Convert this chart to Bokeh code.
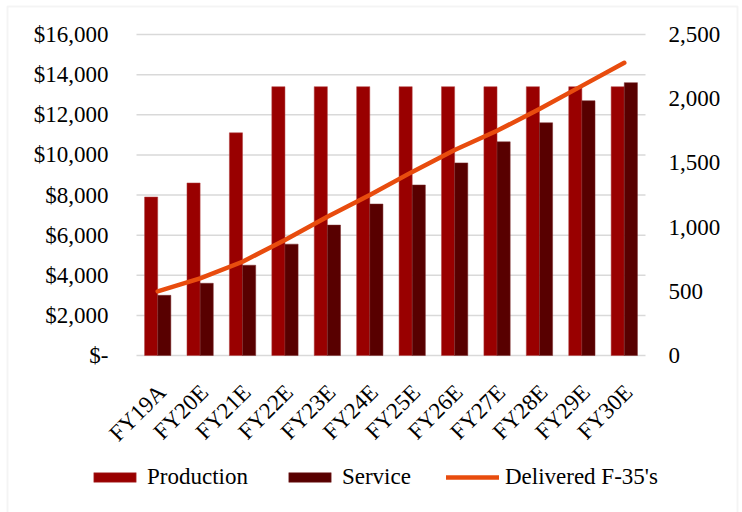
import math
from bokeh.plotting import figure
from bokeh.models import ColumnDataSource, Range1d, Legend, LegendItem, BoxAnnotation
from bokeh.core.properties import value
from bokeh.embed import file_html
from bokeh.resources import INLINE

years = ["FY19A", "FY20E", "FY21E", "FY22E", "FY23E", "FY24E",
         "FY25E", "FY26E", "FY27E", "FY28E", "FY29E", "FY30E"]
production = [7900, 8600, 11100, 13400, 13400, 13400, 13400, 13400, 13400, 13400, 13400, 13400]
service = [3000, 3600, 4500, 5550, 6500, 7550, 8500, 9600, 10650, 11600, 12700, 13600]
delivered = [500, 600, 730, 900, 1080, 1250, 1430, 1600, 1750, 1920, 2100, 2280]
left_ticks = [0, 2000, 4000, 6000, 8000, 10000, 12000, 14000, 16000]
left_labels = ["$-", "$2,000", "$4,000", "$6,000", "$8,000", "$10,000", "$12,000", "$14,000", "$16,000"]
right_ticks = [0, 500, 1000, 1500, 2000, 2500]
right_labels = ["0", "500", "1,000", "1,500", "2,000", "2,500"]

FONT = "Liberation Serif"
FS = "23px"
PROD_C = "#990000"
SERV_C = "#580000"
LINE_C = "#E84C0E"
GRID_C = "#d9d9d9"

# ---- layout (pixels of the 742x512 canvas) ----
W, H = 742, 512
PL, PR, PT, PB = 136, 645, 34, 355          # plot area
N = len(years)
SLOT = (PR - PL) / N
LMAX, RMAX = left_ticks[-1], right_ticks[-1]

def px2x(px):
    return -0.5 + (px - PL) / SLOT

def px2y(py, top=LMAX):
    return (PB - py) * top / (PB - PT)

idx = list(range(N))
src = ColumnDataSource(dict(idx=idx, years=years, production=production,
                            service=service, delivered=delivered,
                            prod_x=[i - 0.155 for i in idx], serv_x=[i + 0.155 for i in idx],
                            lab_x=[i + 0.1 for i in idx], lab_y=[px2y(388)] * N))

p = figure(width=W, height=H, output_backend="svg", toolbar_location=None,
           x_axis_type=None, y_axis_type=None,
           x_range=Range1d(px2x(0), px2x(W)), y_range=Range1d(px2y(H), px2y(0)),
           min_border=0, min_border_left=0, min_border_right=0, min_border_top=0, min_border_bottom=0)
p.extra_y_ranges = {"units": Range1d(px2y(H, RMAX), px2y(0, RMAX))}
p.title.visible = False
p.outline_line_color = None
p.background_fill_color = "white"
p.border_fill_color = "white"
p.xgrid.visible = False
p.ygrid.visible = False

# gridlines at the left-axis ticks
p.segment(x0=[-0.5] * len(left_ticks), x1=[N - 0.5] * len(left_ticks),
          y0=left_ticks, y1=left_ticks, line_color=GRID_C, line_width=1.5)

r1 = p.vbar(x="prod_x", top="production", width=0.31, source=src,
            fill_color=PROD_C, line_color="#b04040", line_width=0.5)
r2 = p.vbar(x="serv_x", top="service", width=0.31, source=src,
            fill_color=SERV_C, line_color="#7a2a2a", line_width=0.5)
r3 = p.line(x="idx", y="delivered", source=src, y_range_name="units",
            line_color=LINE_C, line_width=4.5, line_cap="round", line_join="round")

# left axis labels
p.text(x=[px2x(108)] * len(left_ticks), y=left_ticks, text=left_labels,
       text_align="right", text_baseline="middle", text_font=value(FONT),
       text_font_size=value(FS), text_color="black")
# right axis labels
p.text(x=[px2x(668)] * len(right_ticks), y=right_ticks, text=right_labels,
       y_range_name="units", text_align="left", text_baseline="middle",
       text_font=value(FONT), text_font_size=value(FS), text_color="black")
# category labels
p.text(x="lab_x", y="lab_y", text="years", source=src, angle=math.pi / 4,
       text_align="right", text_baseline="middle", text_font=value(FONT),
       text_font_size=value(FS), text_color="black")

legend = Legend(items=[LegendItem(label="Production", renderers=[r1]),
                       LegendItem(label="Service", renderers=[r2]),
                       LegendItem(label="Delivered F-35's", renderers=[r3])],
                orientation="horizontal", location=(88, 22),
                glyph_width=53, glyph_height=12, label_height=24, label_standoff=6,
                spacing=35, padding=0, margin=0,
                label_text_font=FONT, label_text_font_size=FS, label_text_color="black",
                border_line_color=None, background_fill_alpha=0)
p.add_layout(legend, "center")

frame = BoxAnnotation(left=7, right=737, top=6, bottom=530,
                      left_units="canvas", right_units="canvas", top_units="canvas", bottom_units="canvas",
                      fill_alpha=0, line_color=GRID_C, line_width=2)
p.add_layout(frame)

open("out.html", "w").write(file_html(p, INLINE))
